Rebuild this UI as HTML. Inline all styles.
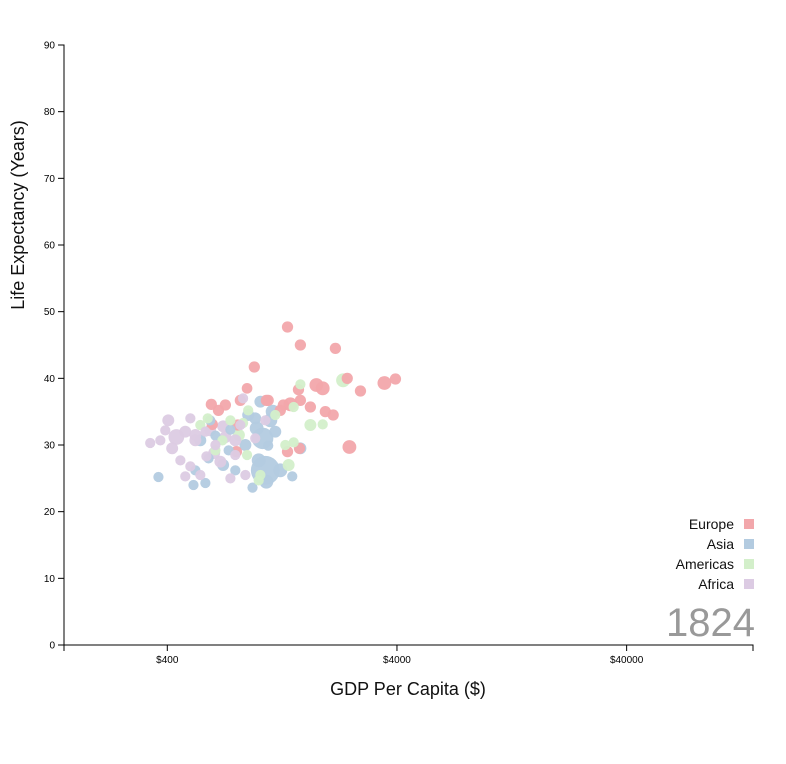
<!DOCTYPE html>
<html><head><meta charset="utf-8">
<style>
body{margin:0;background:#fff;}
svg{display:block;font-family:"Liberation Sans",sans-serif;}
</style></head>
<body>
<svg id="chart" width="786" height="764" viewBox="0 0 786 764"></svg>
<script>
const regions = ["Europe","Asia","Americas","Africa"];
const regionColors = ["#f2a7ab","#b3cbe0","#d3efca","#dccbe3"];
const xTickValues = [400,4000,40000];
const xTickLabels = ["$400","$4000","$40000"];
const yTickValues = [0,10,20,30,40,50,60,70,80,90];
const year = "1824";
// Europe
const europeGdp = [1335,1519,2158,957,1783,1900,2430,3527,3940,2774,890,1100,832,716,622,1490,1519,1374,1281,1679,1242,1951,2110,668,628,810,2483,1505,1335,800,1080];
const europeLife = [47.7,45,44.5,41.7,39,38.5,40,39.3,39.9,38.1,38.5,36.7,36.7,36,36.1,38.3,36.7,36.1,36,35.7,35.2,35,34.5,35.2,33.1,33,29.7,29.5,29,29,36.7];
const europePop = [4,4,4,4,20,20,4,20,4,4,2,4,4,4,4,4,4,20,4,4,4,4,4,4,4,4,20,4,4,4,4];
// Asia
const asiaGdp = [1069,1040,366,520,586,605,557,648,753,791,940,1100,1181,1400,1519,1017,966,1242,875,530,615,740,1124,1000,1150,980,900,1080,700];
const asiaLife = [26.2,31,25.2,24,24.3,28,30.7,31.4,32.3,26.2,23.6,29.9,32,25.3,29.5,36.5,34,26.2,30,26.2,33.7,29.2,33.7,27.7,35,32.5,34.5,24.5,27];
const asiaPop = [360,140,1,1,1,1,7,1,1,1,1,1,7,1,7,7,7,20,7,1,1,1,20,20,20,20,7,20,7];
// Americas
const americasGdp = [1519,2330,1420,1420,1350,1306,1679,1900,900,855,557,695,890,1017,753,648,1000,1181,820,600];
const americasLife = [39.1,39.7,35.7,30.4,27,30,33,33.1,35.2,33.3,33,30.7,28.5,25.5,33.7,29.2,24.7,34.5,31.5,34];
const americasPop = [1,20,1,1,7,1,7,1,1,1,1,1,1,1,1,1,1,1,7,1];
// Africa
const africaGdp = [337,373,404,392,438,479,530,504,530,586,615,716,648,681,504,479,557,753,875,966,791,832,855,592,1069,456,791,420,640,700];
const africaLife = [30.3,30.7,33.7,32.2,31.2,32,31.5,34,30.7,32,32.2,31.2,30,27.5,26.8,25.3,25.5,25,25.5,31,30.7,33,37,28.3,33.7,27.7,28.5,29.5,28.8,32.8];
const africaPop = [1,1,7,1,40,7,7,1,7,1,7,7,1,7,1,1,1,1,1,1,7,1,1,1,1,1,1,7,7,7];

const NS="http://www.w3.org/2000/svg";
const svg=document.getElementById('chart');
const L=64,R=753,T=45,B=645;
const xMin=142,xMax=142000;
function x(v){return L+(Math.log10(v)-Math.log10(xMin))/(Math.log10(xMax)-Math.log10(xMin))*(R-L);}
function y(v){return B-v/90*(B-T);}
function r(p){return 4.6+0.52*Math.sqrt(p);}
function mk(tag,attrs){const e=document.createElementNS(NS,tag);for(const k in attrs)e.setAttribute(k,attrs[k]);return e;}

const axes=mk('g',{});


svg.appendChild(axes);
axes.appendChild(mk('path',{d:`M${L-6},${T}H${L}V${B}H${L-6}`,fill:'none',stroke:'#000','stroke-width':1}));
yTickValues.forEach(v=>{
  axes.appendChild(mk('line',{x1:L-6,x2:L,y1:y(v),y2:y(v),stroke:'#000'}));
  const t=mk('text',{x:L-9,y:y(v)+3.5,'text-anchor':'end','font-size':10,fill:'#000'});
  t.textContent=v;
  
  
  axes.appendChild(t);
});
axes.appendChild(mk('path',{d:`M${L},${B+6}V${B}H${R}V${B+6}`,fill:'none',stroke:'#000'}));
xTickValues.forEach((v,i)=>{
  axes.appendChild(mk('line',{x1:x(v),x2:x(v),y1:B,y2:B+6,stroke:'#000'}));
  const t=mk('text',{x:x(v),y:B+18,'text-anchor':'middle','font-size':10,fill:'#000'});
  t.textContent=xTickLabels[i];
  
  
  axes.appendChild(t);
});
const xt=mk('text',{x:408,y:695,'text-anchor':'middle','font-size':18,fill:'#111'});
xt.textContent='GDP Per Capita ($)';


svg.appendChild(xt);
const yt=mk('text',{transform:'translate(24,215) rotate(-90)','text-anchor':'middle','font-size':18,fill:'#111'});
yt.textContent='Life Expectancy (Years)';


svg.appendChild(yt);

const yr=mk('text',{x:755,y:636,'text-anchor':'end','font-size':40,fill:'#999'});
yr.textContent=year;


svg.appendChild(yr);

const sets=[[europeGdp,europeLife,europePop,0],[asiaGdp,asiaLife,asiaPop,1],[americasGdp,americasLife,americasPop,2],[africaGdp,africaLife,africaPop,3]];
let pts=[];
sets.forEach(s=>{s[0].forEach((g,i)=>pts.push({g:g,l:s[1][i],p:s[2][i],c:s[3]}));});
pts.sort((a,b)=>b.p-a.p);
const pg=mk('g',{});


svg.appendChild(pg);
pts.forEach(d=>{
  const c=mk('circle',{cx:x(d.g),cy:y(d.l),r:r(d.p),fill:regionColors[d.c],'fill-opacity':0.95});
  
  
  pg.appendChild(c);
});

regions.forEach((n,i)=>{
  const g=mk('g',{});
  
  
  g.appendChild(mk('rect',{x:744,y:519+i*20,width:10,height:10,fill:regionColors[i]}));
  const t=mk('text',{x:734,y:529+i*20,'text-anchor':'end','font-size':14,fill:'#111'});
  t.textContent=n;
  g.appendChild(t);
  svg.appendChild(g);
});
</script>
</body></html>
